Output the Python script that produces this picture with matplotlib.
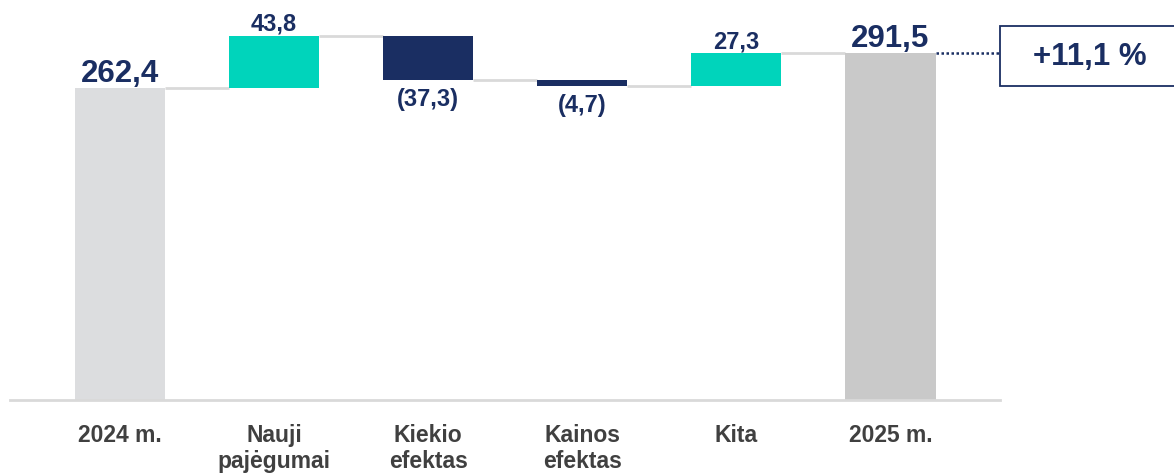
import matplotlib
matplotlib.use("Agg")
import matplotlib.pyplot as plt
from matplotlib.patches import Rectangle

plt.rcParams['font.family'] = ['Liberation Sans', 'DejaVu Sans']

categories = ["2024 m.", "Nauji\npajėgumai", "Kiekio\nefektas", "Kainos\nefektas", "Kita", "2025 m."]
start_value = 262.4
changes = [43.8, -37.3, -4.7, 27.3]
end_value = 291.5
value_labels = ["262,4", "43,8", "(37,3)", "(4,7)", "27,3", "291,5"]
growth_label = "+11,1 %"

NAVY = "#1A2E62"
TEAL = "#00D4BB"
GRAY_START = "#DCDDDF"
GRAY_END = "#C9C9C9"
CONNECT = "#D9D9D9"
TEXT_CAT = "#404040"

W, H = 1174, 473
fig = plt.figure(figsize=(W / 100, H / 100), dpi=100)
ax = fig.add_axes([10 / W, 73 / H, 990 / W, 400 / H])

bar_w = 0.585
bottoms, heights, colors = [], [], []
bottoms.append(0); heights.append(start_value); colors.append(GRAY_START)
level = start_value
levels = [start_value]
for c in changes:
    if c >= 0:
        bottoms.append(level); heights.append(c); colors.append(TEAL)
    else:
        bottoms.append(level + c); heights.append(-c); colors.append(NAVY)
    level += c
    levels.append(level)
bottoms.append(0); heights.append(end_value); colors.append(GRAY_END)
levels.append(end_value)

x = list(range(len(categories)))
ax.bar(x, heights, bottom=bottoms, width=bar_w, color=colors, zorder=3)

# connectors
for i in range(len(categories) - 1):
    lv = levels[i]
    ax.plot([i + bar_w / 2, i + 1 - bar_w / 2], [lv, lv], color=CONNECT, lw=2, zorder=2,
            solid_capstyle='butt')

# value labels
for i, lab in enumerate(value_labels):
    top = bottoms[i] + heights[i]
    if i == 0 or i == len(categories) - 1:
        ax.annotate(lab, (i, top), xytext=(0, 4.3), textcoords='offset points',
                    ha='center', va='baseline', fontsize=22.5, fontweight='bold', color=NAVY)
    elif changes[i - 1] >= 0:
        ax.annotate(lab, (i, top), xytext=(0, 3.6), textcoords='offset points',
                    ha='center', va='baseline', fontsize=17, fontweight='bold', color=NAVY)
    else:
        ax.annotate(lab, (i, bottoms[i]), xytext=(0, -19), textcoords='offset points',
                    ha='center', va='baseline', fontsize=17, fontweight='bold', color=NAVY)

ax.set_xlim((10 - 120) / 154.1, (1000 - 120) / 154.1)
ax.set_ylim(0, 400 / 1.19)
ax.set_xticks(x)
ax.set_xticklabels(categories, fontsize=16.5, fontweight='bold', color=TEXT_CAT, linespacing=1.2)
ax.tick_params(axis='x', length=0, pad=17)
ax.set_yticks([])
for s in ['top', 'right', 'left']:
    ax.spines[s].set_visible(False)
ax.spines['bottom'].set_color(CONNECT)
ax.spines['bottom'].set_linewidth(2.0)
ax.spines['bottom'].set_zorder(4)

# dotted line to box
last = len(categories) - 1
ax.plot([last + bar_w / 2, 5.711], [end_value, end_value], color=NAVY, lw=1.8,
        linestyle=(0, (1, 1)), zorder=3, clip_on=False)

# growth box (figure coords)
box = Rectangle((1000 / W, 1 - 86 / H), 200 / W, 60 / H, transform=fig.transFigure,
                facecolor='white', edgecolor=NAVY, lw=1.3, clip_on=False)
fig.patches.append(box)
fig.text(1090 / W, 1 - 57 / H, growth_label, ha='center', va='center', fontsize=22.5,
         fontweight='bold', color=NAVY)

fig.savefig("out.png", dpi=100, facecolor='white')
